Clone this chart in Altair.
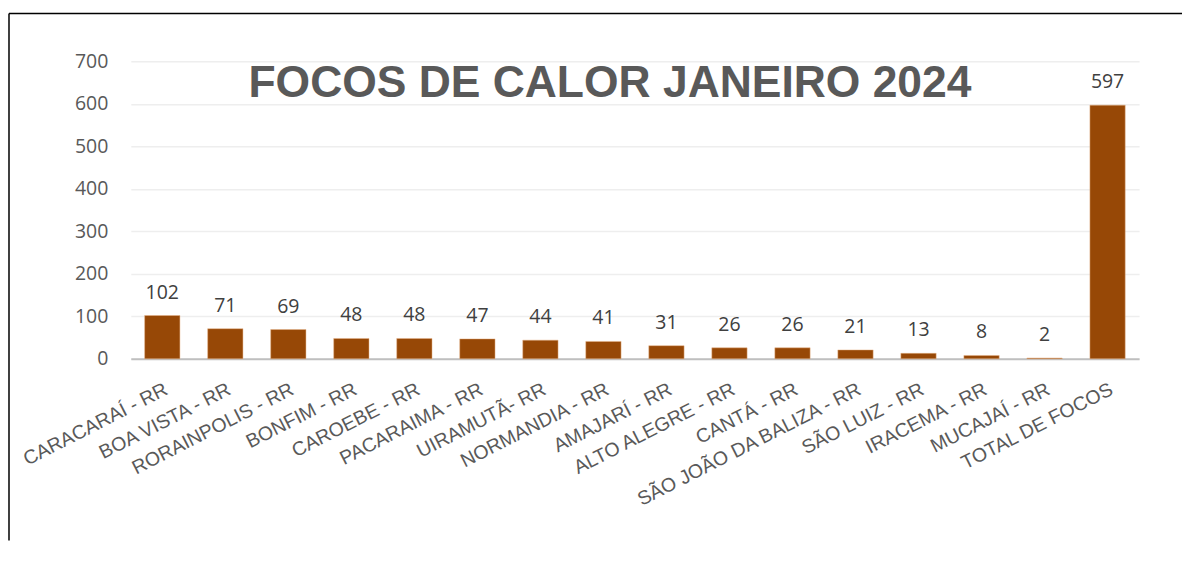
import altair as alt
import pandas as pd

categorias = [
    "CARACARAÍ - RR", "BOA VISTA - RR", "RORAINPOLIS - RR", "BONFIM - RR",
    "CAROEBE - RR", "PACARAIMA - RR", "UIRAMUTÃ- RR", "NORMANDIA - RR",
    "AMAJARÍ - RR", "ALTO ALEGRE - RR", "CANTÁ - RR", "SÃO JOÃO DA BALIZA - RR",
    "SÃO LUIZ - RR", "IRACEMA - RR", "MUCAJAÍ - RR", "TOTAL DE FOCOS",
]
focos = [102, 71, 69, 48, 48, 47, 44, 41, 31, 26, 26, 21, 13, 8, 2, 597]
titulo = "FOCOS DE CALOR JANEIRO 2024"
y_ticks = [0, 100, 200, 300, 400, 500, 600, 700]

df = pd.DataFrame({"municipio": categorias, "focos": focos})

W, H = 1010, 298

x_enc = alt.X(
    "municipio:N", sort=categorias, title=None,
    scale=alt.Scale(paddingInner=0.44, paddingOuter=0.22),
    axis=alt.Axis(labelAngle=-27, labelFont="Liberation Sans", labelFontSize=19.5,
                  labelColor="#595959", labelPadding=21, ticks=False,
                  domainColor="#BFBFBF", domainWidth=2, labelOverlap=False,
                  labelLimit=400),
)
y_enc = alt.Y(
    "focos:Q", title=None,
    scale=alt.Scale(domain=[0, 700], nice=False),
    axis=alt.Axis(values=y_ticks, labelFont="Open Sans", labelFontSize=19.5,
                  labelColor="#595959", labelPadding=23, ticks=False, domain=False,
                  gridColor="#EEEEEE", gridWidth=1.5),
)

base = alt.Chart(df)
bars = base.mark_bar(color="#974806", stroke="#E6B48A", strokeWidth=0.5).encode(x=x_enc, y=y_enc)
labels = base.mark_text(font="Open Sans", fontSize=19.5, color="#404040",
                        baseline="alphabetic", dy=-17).encode(
    x=alt.X("municipio:N", sort=categorias),
    y=alt.Y("focos:Q"),
    text=alt.Text("focos:Q"),
)
title_mark = alt.Chart(pd.DataFrame({"t": [titulo]})).mark_text(
    font="Liberation Sans", fontSize=44.5, fontWeight="bold", color="#595959",
    baseline="alphabetic", align="center",
).encode(x=alt.value(480), y=alt.value(36), text="t:N")

frame_top = alt.Chart(pd.DataFrame({"a": [0]})).mark_rule(color="black", strokeWidth=1.5).encode(
    x=alt.value(-122), x2=alt.value(1053), y=alt.value(-48))
frame_left = alt.Chart(pd.DataFrame({"a": [0]})).mark_rule(color="black", strokeWidth=1.5).encode(
    x=alt.value(-122), y=alt.value(-48), y2=alt.value(480))

chart = alt.layer(bars, labels, title_mark, frame_top, frame_left).properties(
    width=W, height=H, padding={"left": 0, "top": 4, "right": 0, "bottom": 0},
).configure(background="white", view=alt.ViewConfig(stroke=None))

chart.save("out.html", embed_options={"renderer": "svg", "actions": False})
